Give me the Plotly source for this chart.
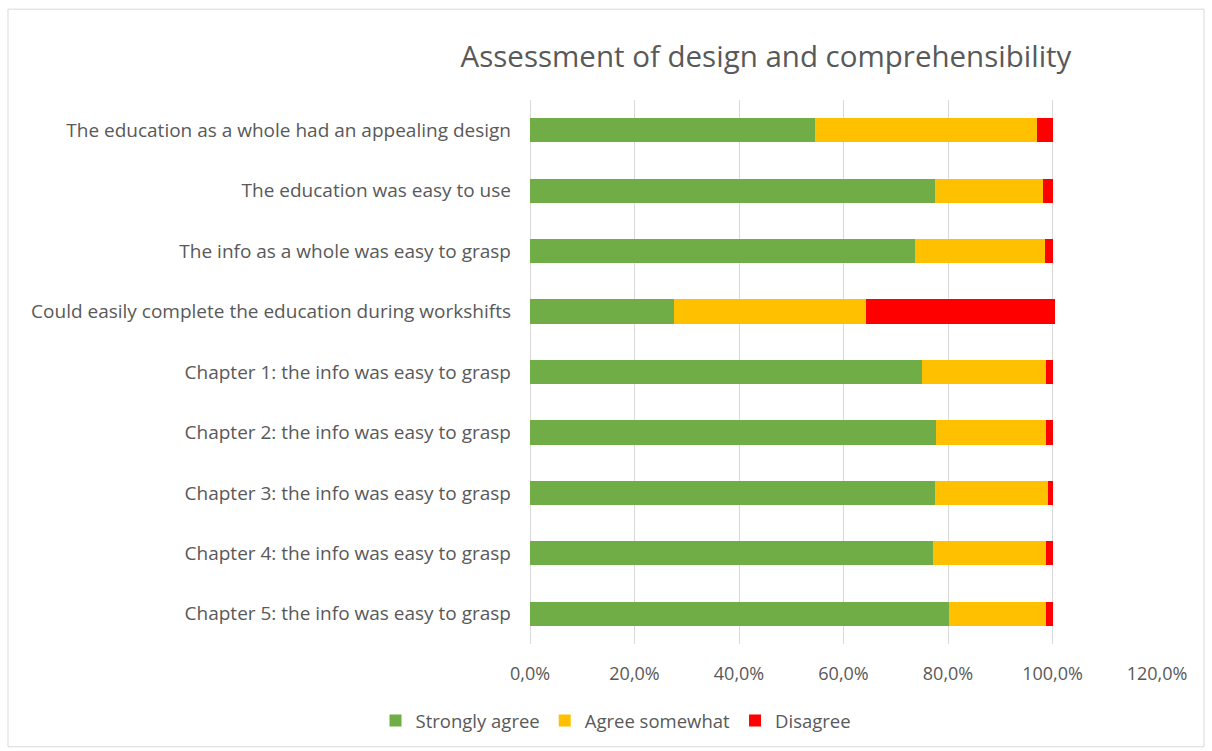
import plotly.graph_objects as go

# Survey statements (top to bottom) and answer shares in percent
statements = [
    "The education as a whole had an appealing design",
    "The education was easy to use",
    "The info as a whole was easy to grasp",
    "Could easily complete the education during workshifts",
    "Chapter 1: the info was easy to grasp",
    "Chapter 2: the info was easy to grasp",
    "Chapter 3: the info was easy to grasp",
    "Chapter 4: the info was easy to grasp",
    "Chapter 5: the info was easy to grasp",
]
strongly_agree = [54.5, 77.5, 73.6, 27.5, 75.0, 77.7, 77.5, 77.1, 80.2]
agree_somewhat = [42.6, 20.6, 24.9, 36.9, 23.8, 21.1, 21.7, 21.7, 18.6]
disagree = [2.9, 1.9, 1.5, 36.1, 1.2, 1.2, 0.8, 1.2, 1.2]

x_ticks = [0, 20, 40, 60, 80, 100, 120]

series = [
    ("Strongly agree", strongly_agree, "#70AD47"),
    ("Agree somewhat", agree_somewhat, "#FFC000"),
    ("Disagree", disagree, "#FF0000"),
]

TEXT = "#595959"
FONT = "Open Sans"

fig = go.Figure()
for name, vals, color in series:
    fig.add_trace(go.Bar(
        y=statements,
        x=[v / 100 for v in vals],
        name=name,
        orientation="h",
        marker=dict(color=color, line=dict(width=0)),
    ))

fig.update_layout(
    width=1212,
    height=751,
    barmode="stack",
    bargap=0.6,
    separators=", ",
    paper_bgcolor="white",
    plot_bgcolor="white",
    margin=dict(l=530, r=55, t=100, b=106),
    font=dict(family=FONT, color=TEXT, size=18),
    title=dict(
        text="Assessment of design and comprehensibility",
        x=766 / 1212, xanchor="center",
        y=1 - 57 / 751, yanchor="middle",
        font=dict(family=FONT, size=29.5, color=TEXT),
    ),
    xaxis=dict(
        range=[0, 1.2],
        tickvals=[t / 100 for t in x_ticks],
        tickformat=".1%",
        showgrid=True,
        gridcolor="#D9D9D9",
        gridwidth=1,
        zeroline=True,
        zerolinecolor="#D9D9D9",
        zerolinewidth=1,
        showline=False,
        ticklabelstandoff=17,
        tickfont=dict(size=18, color=TEXT),
        fixedrange=True,
    ),
    yaxis=dict(
        autorange="reversed",
        showgrid=False,
        showline=False,
        ticklabelstandoff=18,
        tickfont=dict(size=19, color=TEXT),
        fixedrange=True,
    ),
    legend=dict(
        orientation="h",
        x=(616 - 530) / 627,
        xanchor="center",
        y=(645 - 721) / 545,
        yanchor="middle",
        font=dict(size=18.5, color=TEXT),
        traceorder="normal",
        itemwidth=30,
    ),
    shapes=[
        dict(
            type="rect", xref="paper", yref="paper",
            x0=-522 / 627, x1=(1204 - 530) / 627,
            y0=(645 - 748) / 545, y1=(645 - 9) / 545,
            line=dict(color="#D9D9D9", width=1),
            fillcolor="rgba(0,0,0,0)",
            layer="below",
        )
    ],
)

fig.write_html("out.html")
